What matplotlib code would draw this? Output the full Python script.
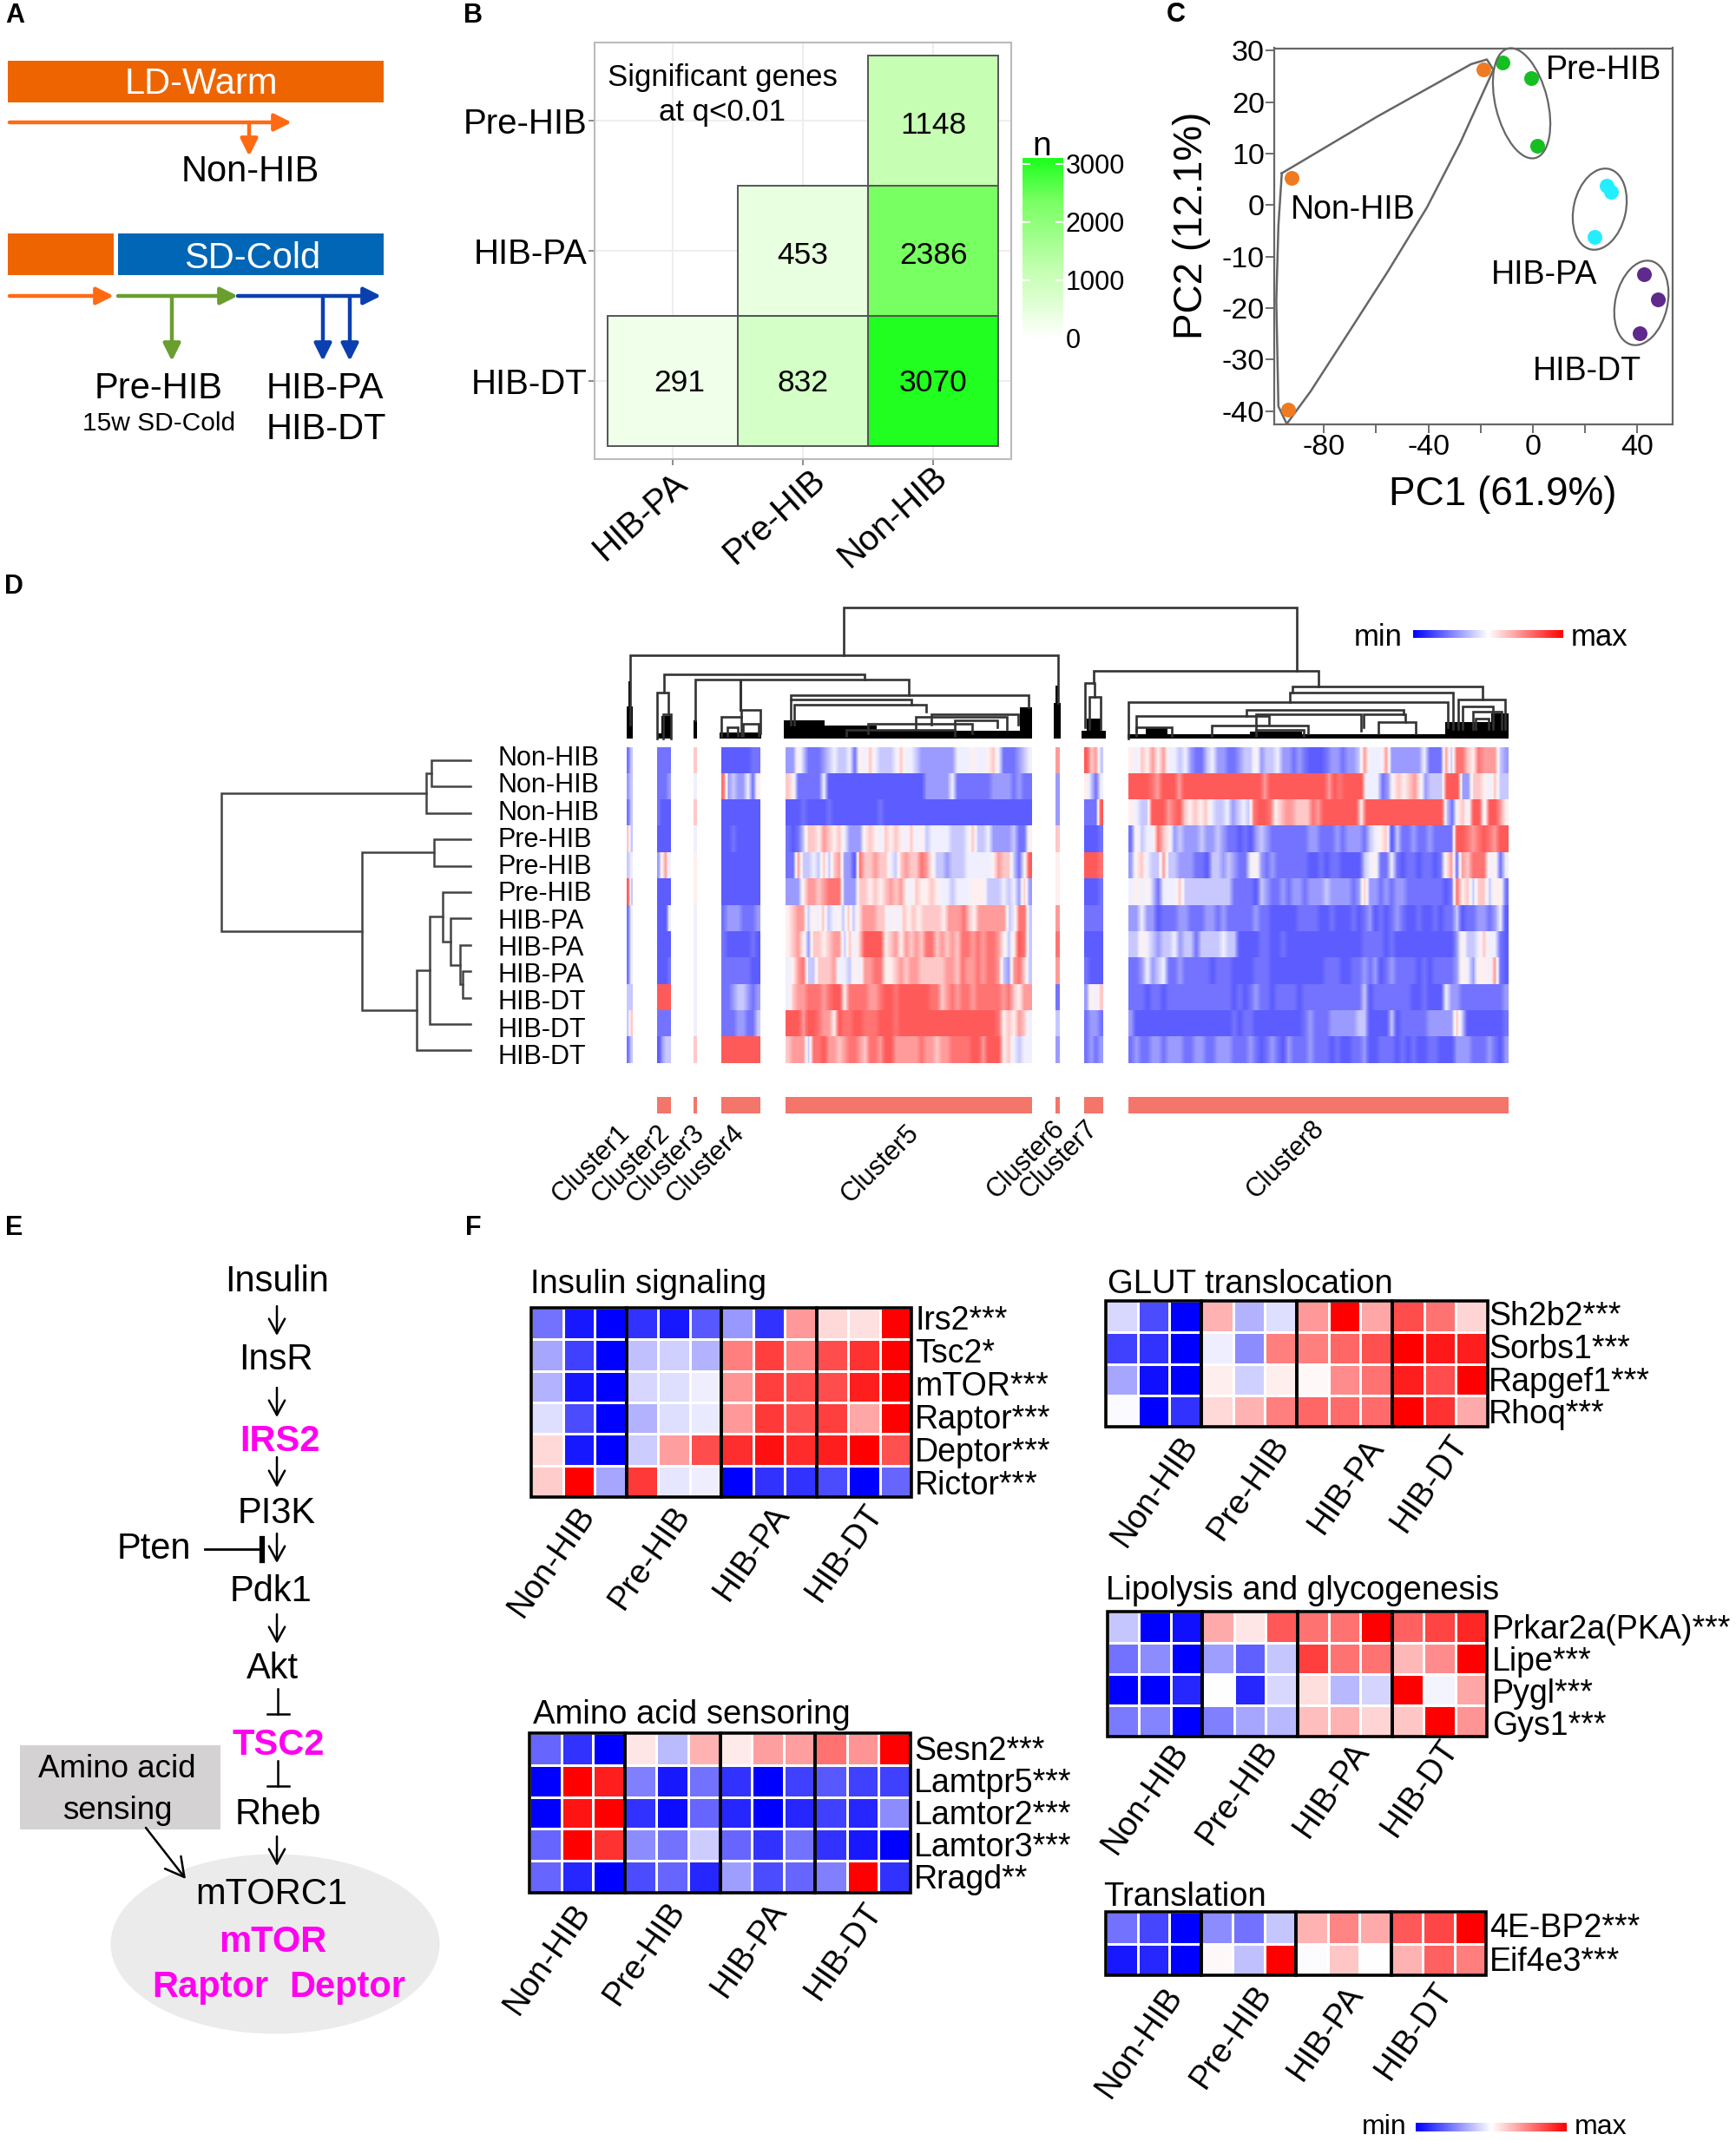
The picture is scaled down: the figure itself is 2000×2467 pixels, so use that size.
#!/usr/bin/env python3
# -*- coding: utf-8 -*-
"""Multi panel figure: hibernation transcriptome overview (panels A-F)."""
import numpy as np
import matplotlib
matplotlib.use("Agg")
import matplotlib.pyplot as plt
from matplotlib.colors import LinearSegmentedColormap
from matplotlib.patches import Ellipse, Rectangle

plt.rcParams['font.family'] = ['Liberation Sans', 'DejaVu Sans']
plt.rcParams['axes.unicode_minus'] = False

W, H = 2000, 2467

# ---------- panel B ----------
b_cols = ["HIB-PA", "Pre-HIB", "Non-HIB"]
b_rows = ["Pre-HIB", "HIB-PA", "HIB-DT"]
b_counts = [[np.nan, np.nan, 1148],
            [np.nan, 453, 2386],
            [291, 832, 3070]]
b_bar_ticks = [0, 1000, 2000, 3000]

# ---------- panel C ----------
pc_groups = ["Non-HIB", "Pre-HIB", "HIB-PA", "HIB-DT"]
pc1 = [[-92.4, -19.0, -93.7], [-11.6, -0.5, 1.7], [28.3, 29.9, 23.6], [42.6, 47.9, 40.9]]
pc2 = [[5.3, 26.3, -39.8], [27.8, 24.7, 11.5], [3.7, 2.6, -6.2], [-13.4, -18.3, -24.9]]
hull_pc1 = [-96.1, -59.6, -23.6, -17.6, -15.1, -27.8, -40.6, -55.4, -70.2, -85.1, -94.2, -97.4, -98.2, -97.4, -96.1]
hull_pc2 = [6.2, 17.2, 27.4, 28.3, 26.3, 12.1, -0.5, -12.8, -24.5, -36.2, -42.5, -39.1, -18.6, -4.0, 6.2]

# ---------- panel D, digits 0-9 run from lowest to highest ----------
d_rows = ["Non-HIB"] * 3 + ["Pre-HIB"] * 3 + ["HIB-PA"] * 3 + ["HIB-DT"] * 3
d_tree = (254.5, (491, (497, 0, 1), 2),
          (417, (500, 3, 4),
           (480, (494.5, (510, 5, (518.6, 6, (530, 7, (533, 8, 9)))), 10), 11)))
c1 = ["13", "23", "13", "63", "34", "93", "14", "14", "14", "33", "36", "13"]
c2 = ["1111", "1112", "1000", "0000", "2574", "0000", "0004", "0000", "0001", "9999", "1111", "0233"]
c3 = ["6", "4", "6", "4", "5", "5", "4", "4", "4", "4", "4", "6"]
c4 = ["00000011", "82322415", "00000000", "00100000", "00000000", "00000000",
      "12221112", "10000010", "11111100", "11233212", "11122113", "99999999"]
c5 = ["225311123433415464333464432222222444544564111234",
      "651111140000000000000000000222224111111122221211",
      "000100001000000000100000000000000000000000000000",
      "101366576564222565465654645344443334633422223115",
      "117334363672208667664367668753323334444457663149",
      "222577678882226656567675465565443444555333434262",
      "5677354634536357776645465656666577786577777734883",
      "567526656773646999956757676886767688787887535983",
      "457833666744354778855676776666677687787887327863",
      "467788878995888877899899999988678788788888786577",
      "999799877598899888999899999999999999999998565764",
      "677738897767887688799777778776778888997999564344"]
c6 = ["7", "2", "2", "6", "5", "5", "7", "8", "7", "1", "3", "2"]
c7 = ["9673", "5314", "1119", "0001", "9998", "0001", "1111", "0000", "1000", "2546", "1221", "1212"]
c8_left = ["54657574434211342211233523342212100",
           "99998799979999999999999997999999999",
           "54339997896565643342343899856776668",
           "15344865232223223211010232111111122",
           "25643373322211033232114521211111100",
           "45453144463333333331111032112122122",
           "22422011122111221211111211000001111",
           "33543233423313333433000011001000000",
           "11242341121111101110000111000000000",
           "11101101111111111110101211011110111",
           "20000000000000000001011000000000121",
           "12112212221122112221112101210211121"]
c8_right = ["01221223744472222224111738865877732",
            "997989999444125656752333999226654633",
            "799999995999999999999999315649949975",
            "11121222134560311211211119987898799",
            "10110000345114101101101571768884514",
            "23222212622121221111111018563663551",
            "00100010120101210010010113011221240",
            "00000000111101000000000002533464410",
            "01110011212012111101011112542554710",
            "11111111301111111001000422111111112",
            "11222223300003011111222226300000001",
            "11010011200111010100110002221112102"]
c8 = [a + b for a, b in zip(c8_left, c8_right)]
clusters = [c1, c2, c3, c4, c5, c6, c7, c8]
cluster_names = ["Cluster%d" % i for i in range(1, 9)]

# ---------- panel F ----------
groups = ["Non-HIB", "Pre-HIB", "HIB-PA", "HIB-DT"]
insulin_genes = ["Irs2***", "Tsc2*", "mTOR***", "Raptor***", "Deptor***", "Rictor***"]
insulin_vals = [[-.55, -.9, -1, -.8, -.9, -.65, -.4, -.8, .4, .15, .12, 1],
                [-.35, -.75, -1, -.25, -.18, -.3, .5, .75, .5, .7, .8, 1],
                [-.3, -.9, -1, -.16, -.13, -.07, .42, .75, .7, .7, .88, 1],
                [-.13, -.7, -1, -.3, -.13, -.08, .4, .78, .68, .75, .35, 1],
                [.15, -.9, -1, -.2, .38, .7, .82, .93, .83, .88, 1, .68],
                [.2, 1, -.35, .78, -.1, -.07, -1, -.8, -.8, -.7, -1, -.6]]
amino_genes = ["Sesn2***", "Lamtpr5***", "Lamtor2***", "Lamtor3***", "Rragd**"]
amino_vals = [[-.6, -.8, -1, .1, -.27, .3, .08, .38, .38, .55, .42, 1],
              [-1, 1, .88, -.5, -.9, -.55, -.8, -1, -.75, -.65, -.75, -.75],
              [-1, .92, 1, -.8, -.95, -.6, -.85, -1, -.85, -.75, -.85, -.45],
              [-.6, 1, .8, -.45, -.55, -.2, -.6, -.8, -.55, -.8, -.9, -1],
              [-.6, -.85, -1, -.7, -.6, -.85, -.38, -.7, -.6, -.5, 1, -.8]]
glut_genes = ["Sh2b2***", "Sorbs1***", "Rapgef1***", "Rhoq***"]
glut_vals = [[-.15, -.7, -1, .3, -.3, -.13, .4, 1, .35, .7, .55, .17],
             [-.75, -.8, -1, -.07, -.45, .5, .5, .6, .68, 1, .9, .88],
             [-.35, -.93, -1, .07, -.18, .07, .03, .45, .55, .88, .7, 1],
             [-.02, -1, -.8, .15, .3, .5, .6, .58, .58, 1, .8, .33]]
lipo_genes = ["Prkar2a(PKA)***", "Lipe***", "Pygl***", "Gys1***"]
lipo_vals = [[-.22, -1, -.93, .33, .1, .65, .55, .55, 1, .62, .73, .85],
             [-.55, -.45, -1, -.38, -.62, -.22, .75, .55, .55, .28, .45, 1],
             [-1, -1, -.85, 0, -.85, -.15, .13, -.28, -.17, 1, -.04, .35],
             [-.52, -.48, -1, -.5, -.35, -.28, .25, .3, .17, .22, 1, .42]]
trans_genes = ["4E-BP2***", "Eif4e3***"]
trans_vals = [[-.55, -.72, -1, -.45, -.55, -.22, .3, .48, .33, .65, .72, 1],
              [-.9, -.85, -1, .03, -.25, 1, -.01, .22, 0, .3, .62, .5]]

# colours
ORANGE, BLUE_BAR = "#EE6400", "#0066B5"
MAGENTA = "#FF00F0"
cmap_b = LinearSegmentedColormap.from_list(
    "b", [(0, "#FFFFFF"), (291 / 3070, "#F0FFEA"), (832 / 3070, "#D4FFC6"), (1148 / 3070, "#C6FFB4"),
          (2386 / 3070, "#78FF62"), (1, "#20FF20")])
cmap_d = LinearSegmentedColormap.from_list(
    "d", ["#5C5CFF", "#7474FF", "#9C9CFF", "#C8C8FF", "#F0F0FF", "#FFF0F0", "#FFC8C8", "#FF9C9C", "#FF7474", "#FF5A5A"])
cmap_f = LinearSegmentedColormap.from_list("f", ["#0000FF", "#FFFFFF", "#FF0000"])

fig = plt.figure(figsize=(W / 100, H / 100), dpi=100)


def px_axes(x0, y0, x1, y1, **kw):
    return fig.add_axes([x0 / W, 1 - y1 / H, (x1 - x0) / W, (y1 - y0) / H], **kw)


ov = px_axes(0, 0, W, H, zorder=5)
ov.set_xlim(0, W)
ov.set_ylim(H, 0)
ov.axis("off")
ov.patch.set_alpha(0)


def txt(x, y, s, size=30, ha="center", rotation=0, **kw):
    # va=center sits a little high because of the descender room
    if rotation == 0:
        y = y + 4
    ov.text(x, y, s, fontsize=size, ha=ha, va="center", rotation=rotation, **kw)


def hbar(x0, x1, y0, y1, color):
    ov.add_patch(Rectangle((x0, y0), x1 - x0, y1 - y0, fc=color, ec="none"))


def fancy(x0, y0, x1, y1, color, lw=3.2, head="-|>,head_length=0.6,head_width=0.3", scale=20):
    ov.annotate("", xy=(x1, y1), xytext=(x0, y0),
                arrowprops=dict(arrowstyle=head, color=color, lw=lw, shrinkA=0, shrinkB=0, mutation_scale=scale))


for label, x, y in [("A", 17, 14), ("B", 545, 14), ("C", 1355, 13), ("D", 16, 672), ("E", 16, 1411), ("F", 545, 1411)]:
    txt(x, y, label, size=22, weight="bold")

# ---------- A ----------
hbar(9, 442, 70, 118, ORANGE)
txt(232, 93, "LD-Warm", color="white")
fancy(11, 141, 336, 141, "#FF6A13")
fancy(287, 141, 287, 180, "#FF6A13")
txt(288, 194, "Non-HIB")
hbar(9, 131, 269, 317, ORANGE)
hbar(136, 442, 269, 317, BLUE_BAR)
txt(291, 294, "SD-Cold", color="white")
fancy(11, 341, 131, 341, "#FF6A13")
fancy(136, 341, 274, 341, "#6A9E2F")
fancy(274, 341, 439, 341, "#0B3FB0")
fancy(198, 341, 198, 416, "#6A9E2F")
fancy(372, 341, 372, 416, "#0B3FB0")
fancy(403, 341, 403, 416, "#0B3FB0")
txt(183, 444, "Pre-HIB")
txt(183, 484, "15w SD-Cold", size=21.5)
txt(374, 444, "HIB-PA")
txt(376, 491, "HIB-DT")

# ---------- B ----------
ax_b = px_axes(685, 49, 1165, 529)
ax_b.set_xlim(0.4, 3.6)
ax_b.set_ylim(3.6, 0.4)
ax_b.set_axisbelow(True)
ax_b.grid(color="#EEEEEE", lw=1.5)
ax_b.set_xticks([1, 2, 3])
ax_b.set_yticks([1, 2, 3])
ax_b.set_xticklabels([])
ax_b.set_yticklabels(b_rows, fontsize=29)
ax_b.tick_params(length=5, width=1.2, color="#777777", pad=1)
for sp in ax_b.spines.values():
    sp.set_color("#BBBBBB")
    sp.set_linewidth(1.5)
ax_b.pcolormesh(np.arange(0.5, 4), np.arange(0.5, 4), np.ma.masked_invalid(b_counts),
                cmap=cmap_b, vmin=0, vmax=3070)
for i, row in enumerate(b_counts):
    for j, val in enumerate(row):
        if not np.isnan(val):
            ax_b.add_patch(Rectangle((j + 0.5, i + 0.5), 1, 1, fc="none", ec="#555555", lw=1.4))
            nudge = 0.05 if val == 291 else 0.0
            ax_b.text(j + 1 + nudge, i + (1.015 if i == 2 else 1.04), "%d" % val, fontsize=25.5, ha="center", va="center")
ax_b.text(1.38, 0.67, "Significant genes", fontsize=25, ha="center", va="center")
ax_b.text(1.38, 0.94, "at q<0.01", fontsize=25, ha="center", va="center")
for name, x in zip(b_cols, [738, 892, 1029]):
    txt(x, 595, name, size=29, rotation=42)

ax_cb = px_axes(1178, 182, 1225, 395)
ax_cb.imshow(np.linspace(3104, -75, 256)[:, None], extent=(0, 1, -75, 3104), aspect="auto",
             cmap=cmap_b, vmin=0, vmax=3070)
ax_cb.hlines(b_bar_ticks, 0, 0.2, color="white", lw=1.5)
ax_cb.hlines(b_bar_ticks, 0.8, 1, color="white", lw=1.5)
ax_cb.set_xticks([])
ax_cb.set_yticks(b_bar_ticks)
ax_cb.yaxis.tick_right()
ax_cb.tick_params(length=0, labelsize=22, pad=2)
for sp in ax_cb.spines.values():
    sp.set_visible(False)
txt(1200, 165, "n", size=28)

# ---------- C ----------
ax_c = px_axes(1468, 55.5, 1927, 489)
ax_c.set_xlim(-99, 53.5)
ax_c.set_ylim(-42.6, 30.5)
for xs, ys, col in zip(pc1, pc2, ["#EE7B22", "#16BE22", "#22EEFF", "#5E2A8C"]):
    ax_c.scatter(xs, ys, s=150, color=col, zorder=3, linewidths=0)
ax_c.plot(hull_pc1, hull_pc2, color="#666666", lw=1.8, clip_on=False)
ax_c.set_xticks([-80, -40, 0, 40])
ax_c.set_xticks([-60, -20, 20], minor=True)
ax_c.set_yticks(range(-40, 31, 10))
ax_c.tick_params(axis="both", which="both", length=7, width=1.2, color="#555555", labelsize=24.5, pad=1)
for sp in ax_c.spines.values():
    sp.set_color("#666666")
    sp.set_linewidth(1.6)
for center, major, minor, angle in [((1753, 119), 130, 60, 76), ((1843, 241), 95, 60, 103), ((1891, 349), 99, 60, 103)]:
    ov.add_patch(Ellipse(center, major, minor, angle=angle, fc="none", ec="#666666", lw=1.6))
txt(1848, 77, "Pre-HIB", size=27)
txt(1559, 238, "Non-HIB", size=27)
txt(1779, 313, "HIB-PA", size=27)
txt(1828, 424, "HIB-DT", size=27)
txt(1731, 566, "PC1 (61.9%)", size=33)
txt(1373, 260, "PC2 (12.1%)", size=33, rotation=90)

# ---------- D ----------
cluster_spans = [(722, 729), (757, 773), (799, 803), (831, 876), (905, 1189), (1216, 1220.5), (1249, 1271), (1300, 1738)]
row_h = (1225.5 - 860.8) / 12
ax_d = px_axes(700, 860.8, 1760, 1225.5)
ax_d.axis("off")
for span, rows in zip(cluster_spans, clusters):
    for r, digits in enumerate(rows):
        vals = np.array([int(ch) for ch in digits], dtype=float)[None, :]
        ax_d.imshow(vals, extent=(span[0], span[1], r + 1, r), aspect="auto", cmap=cmap_d, vmin=0, vmax=9,
                    interpolation="bilinear")
ax_d.set_xlim(700, 1760)
ax_d.set_ylim(12, 0)
for r, name in enumerate(d_rows):
    txt(573, 870 + r * 31.27, name, size=22, ha="left")


def draw_tree(node):
    # returns (x, row position) of the node, leaves are row numbers
    if not isinstance(node, tuple):
        return 541.5, 860.8 + (node + 0.5) * row_h
    x, left, right = node
    xl, yl = draw_tree(left)
    xr, yr = draw_tree(right)
    ov.plot([xl, x, x, xr], [yl, yl, yr, yr], color="#444444", lw=1.8, solid_joinstyle="miter")
    return x, (yl + yr) / 2


draw_tree(d_tree)

# column tree as (x left, x right, height, foot left, foot right)
col_merges = [(972, 1494, 700, 755, 773), (726, 1219, 755, 835, 810), (765, 996, 777, 798, 783),
              (801, 1047, 783, 830, 801), (853, 853, 783, 818, 818), (854, 876, 818, 826, 845),
              (831, 854, 826, 848, 848), (838, 850, 838, 848, 848), (856, 874, 834, 848, 848),
              (757, 770, 798, 851, 823), (764, 773, 823, 851, 851),
              (911, 1185, 801, 806, 815), (911, 1050, 806, 835, 812), (915, 1067, 812, 835, 820),
              (1073, 1173, 823, 835, 835), (1055, 1160, 826, 840, 840), (1100, 1149, 830, 840, 838),
              (1000, 1120, 834, 845, 845), (975, 1100, 841, 848, 848),
              (1260, 1519, 773, 787, 791), (1250, 1261, 787, 838, 803), (1255, 1268, 803, 840, 840),
              (1489, 1708, 791, 798, 806), (1486, 1674, 798, 809, 840), (1680, 1734, 806, 840, 840),
              (1300, 1668, 809, 851, 838), (1436, 1617, 818, 825, 823), (1309, 1462, 825, 842, 835),
              (1447, 1568, 823, 842, 842), (1571, 1619, 823, 838, 832), (1588, 1631, 832, 845, 845),
              (1309, 1350, 838, 848, 848), (1396, 1507, 836, 848, 845), (1447, 1502, 841, 848, 848),
              (1685, 1720, 814, 840, 840), (1697, 1730, 820, 840, 840), (1700, 1715, 828, 840, 840)]
for xl, xr, top, fl, fr in col_merges:
    ov.plot([xl, xl, xr, xr], [fl, top, top, fr], color="#333333", lw=1.9, solid_joinstyle="miter")
# dense leaves at the foot of the column tree, as (x left, x right, top)
col_feet = [(722, 729, 814), (724, 727, 785), (757, 773, 845), (762, 773, 825), (799, 803, 830), (829, 877, 844),
            (903, 1189, 842), (903, 950, 830), (950, 1010, 836), (1175, 1189, 815), (1214, 1222, 810),
            (1216, 1220, 790), (1246, 1274, 842), (1252, 1268, 828), (1299, 1738, 846), (1320, 1345, 838),
            (1440, 1500, 843), (1665, 1738, 832), (1718, 1738, 822)]
for x0, x1, top in col_feet:
    hbar(x0, x1, top, 851, "#000000")

for span in cluster_spans[1:]:
    hbar(span[0], span[1], 1264, 1283, "#F4756A")
for name, x, y in zip(cluster_names, [681, 727, 767, 813, 1014, 1182, 1220, 1481],
                      [1341, 1341, 1341, 1341, 1341, 1336, 1336, 1336]):
    txt(x, y, name, size=22, rotation=45)


def minmax_bar(x0, x1, y0, y1, y_text, x_min, x_max, size):
    ax = px_axes(x0, y0, x1, y1)
    ax.imshow(np.linspace(-1, 1, 256)[None, :], aspect="auto", cmap=cmap_f, vmin=-1, vmax=1)
    ax.axis("off")
    txt(x_min, y_text, "min", size=size)
    txt(x_max, y_text, "max", size=size)


minmax_bar(1628, 1801, 726, 735, 730, 1588, 1843, 25)
minmax_bar(1630.5, 1804, 2446, 2456, 2447, 1595, 1844, 23)

# ---------- E ----------
ov.add_patch(Ellipse((317, 2240), 379, 207, fc="#EBEBEB", ec="none", zorder=0))
hbar(23, 253.5, 2011, 2108, "#D4D2D3")
open_head = "->,head_length=0.55,head_width=0.3"
for name, x, y, col, wt in [("Insulin", 319, 1473, "black", "normal"), ("InsR", 318, 1563, "black", "normal"),
                            ("IRS2", 322.6, 1657, MAGENTA, "bold"), ("PI3K", 319, 1740, "black", "normal"),
                            ("Pten", 177, 1781, "black", "normal"), ("Pdk1", 312.5, 1830, "black", "normal"),
                            ("Akt", 314, 1919, "black", "normal"), ("TSC2", 321, 2007, MAGENTA, "bold"),
                            ("Rheb", 320, 2087, "black", "normal"), ("mTORC1", 312.5, 2179, "black", "normal"),
                            ("mTOR", 314, 2234, MAGENTA, "bold"), ("Raptor", 242, 2286, MAGENTA, "bold"),
                            ("Deptor", 400, 2286, MAGENTA, "bold")]:
    txt(x, y, name, size=30, color=col, weight=wt)
txt(135, 2034, "Amino acid", size=26.5)
txt(135, 2083, "sensing", size=26.5)
for y0, y1 in [(1505, 1539), (1599, 1633), (1679, 1714), (1767, 1801), (1860, 1894), (2116, 2150)]:
    fancy(319, y0, 319, y1, "black", lw=1.8, head=open_head, scale=22)
fancy(168, 2106, 214, 2165, "black", lw=1.8, head=open_head, scale=28)
ov.plot([236, 302], [1785, 1785], color="black", lw=2)
ov.plot([302, 302], [1773, 1798], color="black", lw=4.5)
for y0, y1 in [(1946, 1975), (2029, 2058)]:
    ov.plot([320, 320], [y0, y1], color="black", lw=1.8)
    ov.plot([308, 333], [y1, y1], color="black", lw=1.8)


# ---------- F ----------
def pathway(box, title, title_xy, genes, vals, label_x, first_y, step_y, label_centers):
    x0, y0, x1, y1 = box
    ax = px_axes(x0, y0, x1, y1)
    ax.pcolormesh(np.arange(13), np.arange(len(genes) + 1), np.array(vals), cmap=cmap_f, vmin=-1, vmax=1,
                  edgecolors="white", linewidth=2.0)
    ax.set_xlim(0, 12)
    ax.set_ylim(len(genes), 0)
    ax.axis("off")
    for g in range(4):
        ax.add_patch(Rectangle((3 * g, 0), 3, len(genes), fc="none", ec="black", lw=2.6, clip_on=False, zorder=4))
    txt(title_xy[0], title_xy[1], title, size=27.5, ha="left")
    for i, gene in enumerate(genes):
        txt(label_x, first_y + i * step_y, gene, size=27, ha="left")
    for name, (lx, ly) in zip(groups, label_centers):
        txt(lx, ly, name, size=27.5, rotation=55)


pathway((612, 1507, 1050, 1725), "Insulin signaling", (611, 1476), insulin_genes, insulin_vals, 1054, 1518, 38.1,
        [(636, 1799), (749, 1795), (866, 1789), (973, 1789)])
pathway((610, 1997, 1049, 2181), "Amino acid sensoring", (614, 1972), amino_genes, amino_vals, 1053, 2014, 37,
        [(631, 2257), (743, 2251), (863, 2246), (972, 2248)])
pathway((1274, 1499, 1714, 1644), "GLUT translocation", (1276, 1476), glut_genes, glut_vals, 1715, 1513, 37.8,
        [(1331, 1718), (1439, 1715), (1551, 1712), (1647, 1709)])
pathway((1276, 1857, 1713, 2001), "Lipolysis and glycogenesis", (1274, 1829), lipo_genes, lipo_vals, 1719, 1874, 37,
        [(1320, 2072), (1426, 2066), (1534, 2062), (1636, 2060)])
pathway((1274, 2203, 1712, 2276), "Translation", (1271, 2182), trans_genes, trans_vals, 1716, 2218, 39,
        [(1313, 2353), (1419, 2347), (1527, 2342), (1629, 2340)])

fig.savefig("out.png", dpi=100)
